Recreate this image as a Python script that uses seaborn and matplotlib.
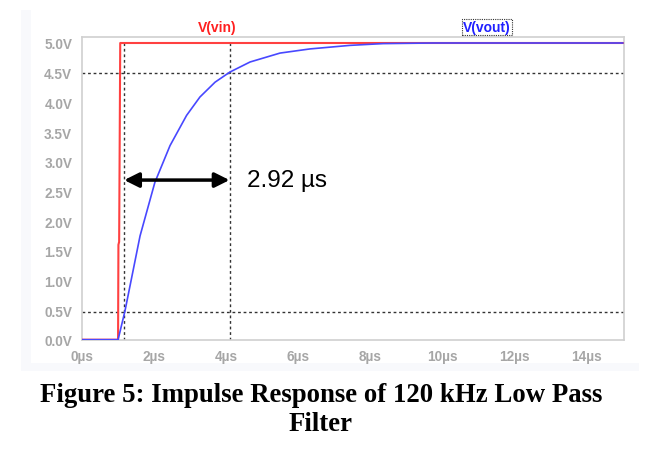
import matplotlib
matplotlib.use("Agg")
import matplotlib.pyplot as plt
import matplotlib.patches as mpatches
import seaborn as sns
import numpy as np

# ---- data ----
vin_t = [0.0, 1.0, 1.01, 1.03, 1.06, 15.0]          # µs
vin_v = [0.0, 0.0, 1.60, 1.65, 5.0, 5.0]            # V
vout_t = [0.0, 1.0, 1.19, 1.61, 2.02, 2.44, 2.90, 3.27, 3.69, 4.10,
          4.66, 5.49, 6.32, 7.43, 8.35, 9.73, 15.0]
vout_v = [0.0, 0.0, 0.48, 1.75, 2.65, 3.27, 3.78, 4.09, 4.34, 4.51,
          4.68, 4.83, 4.90, 4.96, 4.99, 5.0, 5.0]
cursor_t = [1.17, 4.09]
cursor_v = [4.5, 0.47]
x_ticks = [0, 2, 4, 6, 8, 10, 12, 14]
x_labels = ["0µs", "2µs", "4µs", "6µs", "8µs", "10µs", "12µs", "14µs"]
y_ticks = [0.0, 0.5, 1.0, 1.5, 2.0, 2.5, 3.0, 3.5, 4.0, 4.5, 5.0]
y_labels = ["0.0V", "0.5V", "1.0V", "1.5V", "2.0V", "2.5V", "3.0V",
            "3.5V", "4.0V", "4.5V", "5.0V"]
annot_text = "2.92 µs"
caption = "Figure 5: Impulse Response of 120 kHz Low Pass\nFilter"

sns.set_theme(style="white")
plt.rcParams['font.family'] = ['Liberation Sans', 'DejaVu Sans']

W, H = 657, 464
fig = plt.figure(figsize=(W / 100, H / 100), dpi=100)
fig.patch.set_facecolor("white")

# light panel behind the plot (LTspice window)
def px_rect(x0, y0, x1, y1, color):
    fig.patches.append(mpatches.Rectangle((x0 / W, 1 - y1 / H), (x1 - x0) / W,
                                          (y1 - y0) / H, transform=fig.transFigure,
                                          facecolor=color, edgecolor="none", zorder=-10))
px_rect(21, 11, 639, 372, "#f8f9fc")
px_rect(31, 11, 639, 364, "white")

left, right = 82, 623.7
top, bottom = 38.3, 340.7
ax = fig.add_axes([left / W, 1 - bottom / H, (right - left) / W, (bottom - top) / H])
ax.set_facecolor("white")

sns.lineplot(x=vin_t, y=vin_v, ax=ax, color="#ff4040", lw=1.5,
             estimator=None, sort=False, zorder=3)
sns.lineplot(x=vout_t, y=vout_v, ax=ax, color="#4848ff", lw=1.2,
             estimator=None, sort=False, zorder=4)

ax.set_xlim(0, 15.02)
ax.set_ylim(0, 5.096)

# cursors
for v in cursor_v:
    ax.axhline(v, color="#333333", lw=1.0, ls=(0, (2, 2)), zorder=2)
for t in cursor_t:
    ax.vlines(t, 0, 5.0, color="#333333", lw=1.0, ls=(0, (2, 2)), zorder=2)

# arrow
ax.annotate("", xy=(cursor_t[0], 2.69), xytext=(cursor_t[1], 2.69),
            arrowprops=dict(arrowstyle="<|-|>", color="black", lw=2.5,
                            mutation_scale=22, shrinkA=0, shrinkB=0), zorder=6)
ax.text(4.57, 2.69, annot_text, fontsize=17.5, color="black",
        ha="left", va="center", zorder=6)

ax.set_xticks(x_ticks)
ax.set_xticklabels(x_labels)
ax.set_yticks(y_ticks)
ax.set_yticklabels(y_labels)
ax.tick_params(axis="both", which="both", direction="out", length=5, width=1,
               color="#c8c8c8", labelcolor="#a6a6a6", labelsize=9.8, pad=2)
for lab in ax.get_xticklabels() + ax.get_yticklabels():
    lab.set_fontweight("bold")
for s in ax.spines.values():
    s.set_color("#d0d0d0")
    s.set_linewidth(1.2)
ax.set_xlabel("")
ax.set_ylabel("")

# trace labels
fig.text(217 / W, 1 - 28 / H, "V(vin)", color="#ff2020", fontsize=10,
         fontweight="bold", ha="center", va="center")
fig.text(487 / W, 1 - 28 / H, "V(vout)", color="#2020ff", fontsize=10,
         fontweight="bold", ha="center", va="center",
         bbox=dict(boxstyle="square,pad=0.05", facecolor="none",
                   edgecolor="#333333", ls=(0, (1, 1)), lw=0.8))

# caption
fig.text(321 / W, 1 - 410 / H, caption, fontsize=19.3, fontweight="bold",
         family=["Liberation Serif", "DejaVu Serif"], ha="center", va="center",
         linespacing=1.25, color="black")

fig.savefig("out.png", dpi=100)
